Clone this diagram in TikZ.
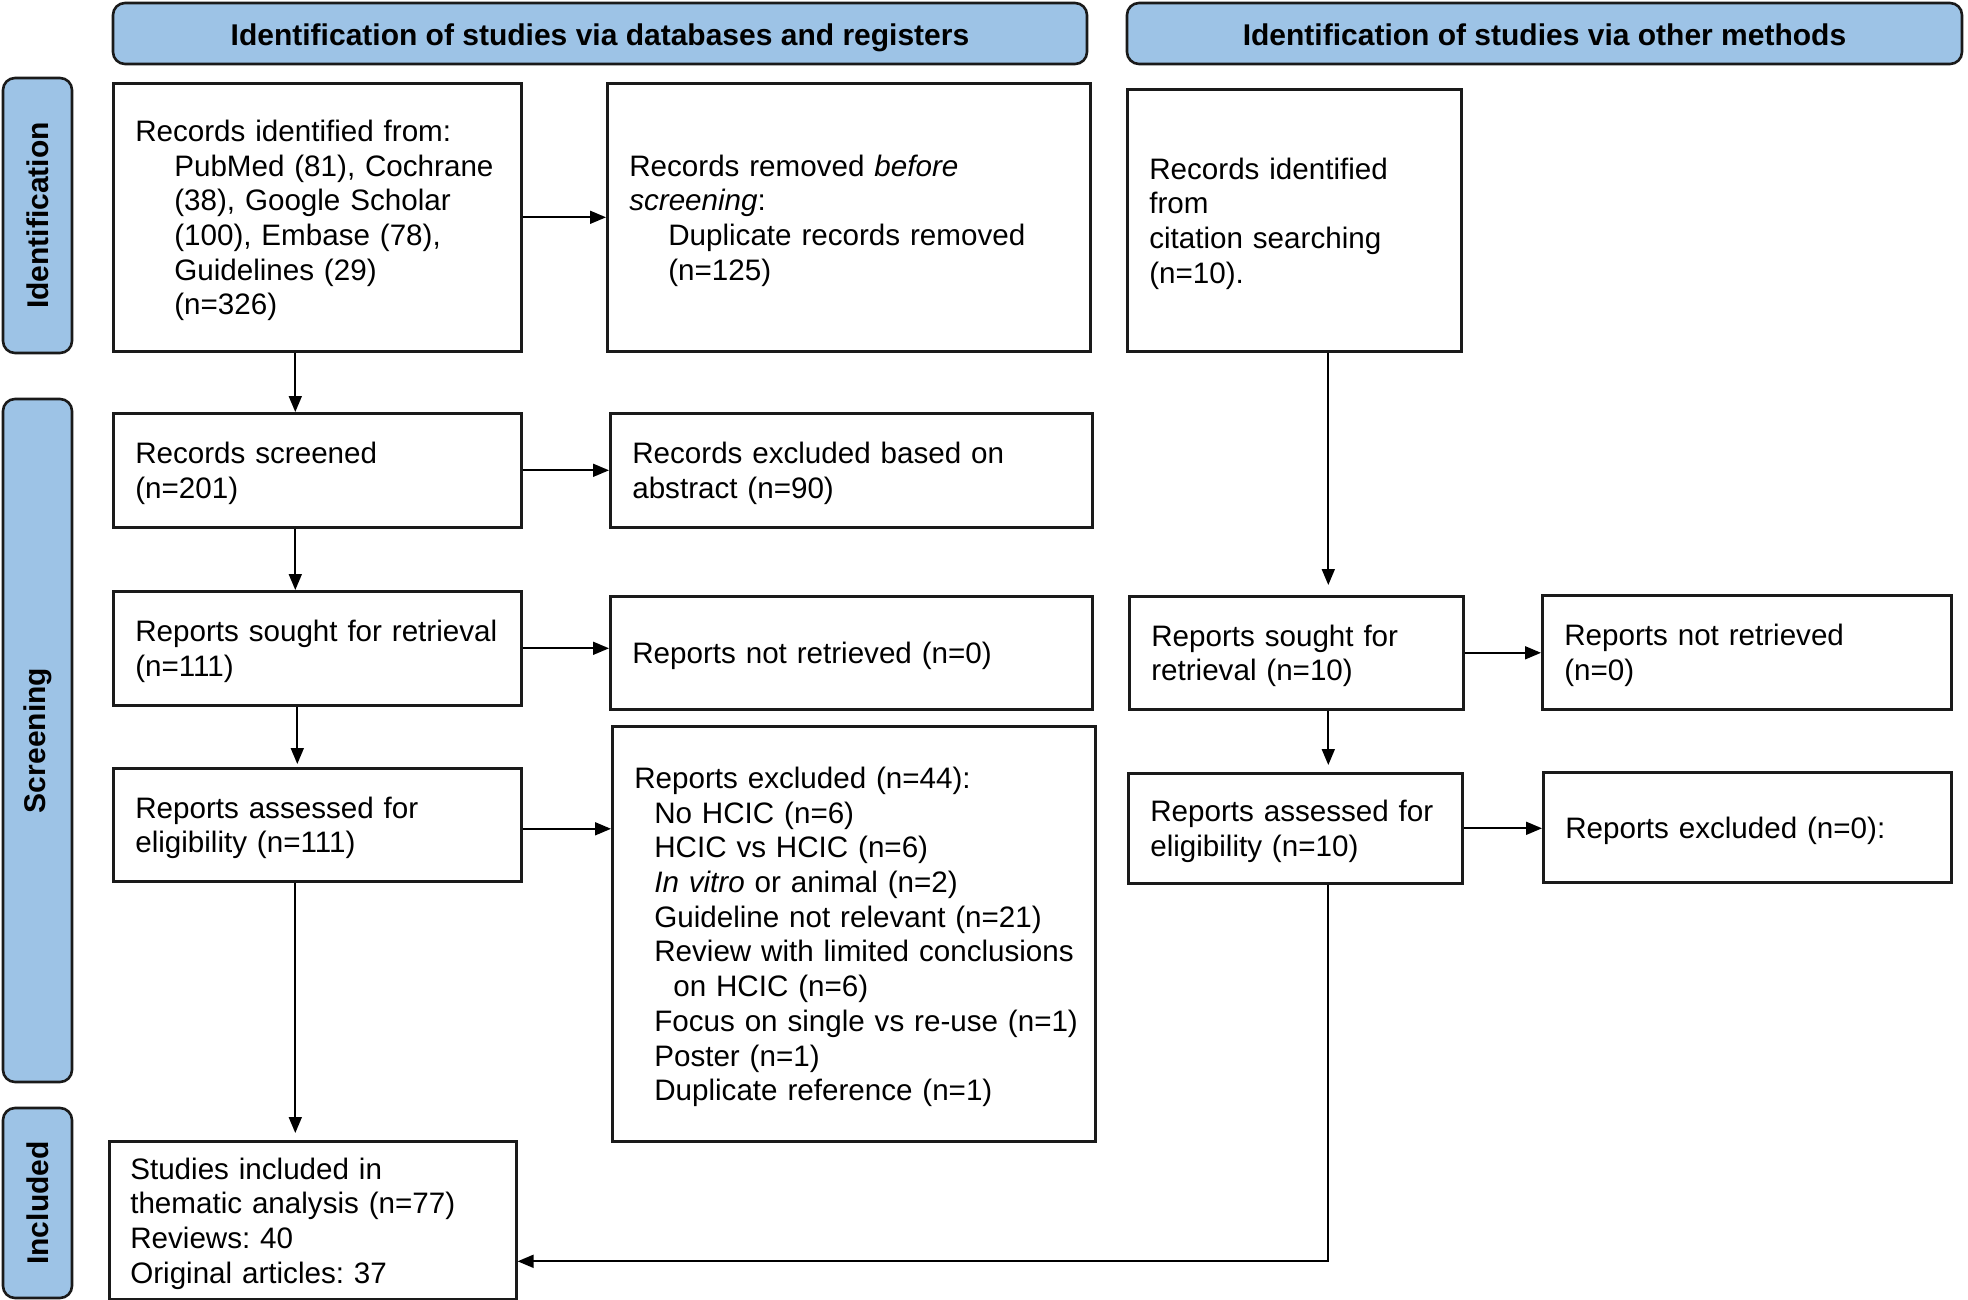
\documentclass[tikz,border=0pt]{standalone}
\usepackage{fontspec}
\setmainfont{Liberation Sans}
\usetikzlibrary{arrows.meta}
\definecolor{hdrblue}{HTML}{9DC3E6}
\definecolor{edgecol}{HTML}{1A1A1A}
\newcommand{\tbl}[1]{\begin{tabular}{@{}l@{}}\rule{0pt}{32pt}#1\end{tabular}}
\frenchspacing
\begin{document}
\begin{tikzpicture}[x=1pt,y=-1pt,
  txt/.style={font=\fontsize{29.6}{34.7}\selectfont\frenchspacing},
  bx/.style={draw=edgecol, line width=2.6pt, rectangle, anchor=north west, inner xsep=22pt, inner ysep=0pt, align=left, txt},
  hdr/.style={draw=edgecol, line width=2.6pt, fill=hdrblue, rounded corners=12pt, font=\fontsize{30}{34.7}\selectfont\bfseries, inner sep=0pt},
  side/.style={hdr, rotate=90},
  arr/.style={draw=black, line width=1.8pt, -{Triangle[length=16pt,width=13pt]}}
]
\useasboundingbox (0,0) rectangle (1968,1300);

% headers
\node[hdr, minimum width=974pt, minimum height=61pt, text height=23.6pt, text depth=0pt] (h1) at (600,33.5) {Identification of studies via databases and registers};
\node[hdr, minimum width=835pt, minimum height=61pt, text height=23.6pt, text depth=0pt] (h2) at (1544.5,33.5) {Identification of studies via other methods};

% side labels
\node[side, minimum width=275pt, minimum height=69pt] (s1) at (37.5,215.5) {Identification};
\node[side, minimum width=683pt, minimum height=69pt] (s2) at (37.5,740.5) {Screening};
\node[side, minimum width=190pt, minimum height=69pt] (s3) at (37.5,1203) {Included};

% boxes
\node[bx, minimum width=408pt, minimum height=268pt, text width=364pt] (A) at (112,82)
  {\tbl{Records identified from:\\
   \hspace*{39pt}PubMed (81), Cochrane\\
   \hspace*{39pt}(38), Google Scholar\\
   \hspace*{39pt}(100), Embase (78),\\
   \hspace*{39pt}Guidelines (29)\\
   \hspace*{39pt}(n=326)}};
\node[bx, minimum width=483pt, minimum height=268pt, text width=439pt] (B) at (606,82)
  {\tbl{Records removed \textit{before}\\
   \textit{screening}:\\
   \hspace*{39pt}Duplicate records removed\\
   \hspace*{39pt}(n=125)}};
\node[bx, minimum width=334pt, minimum height=262pt, text width=290pt] (C) at (1126,88)
  {\tbl{Records identified\\from\\citation searching\\(n=10).}};
\node[bx, minimum width=408pt, minimum height=114pt, text width=364pt] (D) at (112,412)
  {\tbl{Records screened\\(n=201)}};
\node[bx, minimum width=482pt, minimum height=114pt, text width=438pt] (E) at (609,412)
  {\tbl{Records excluded based on\\abstract (n=90)}};
\node[bx, minimum width=408pt, minimum height=114pt, text width=364pt] (F) at (112,590)
  {\tbl{Reports sought for retrieval\\(n=111)}};
\node[bx, minimum width=482pt, minimum height=113pt, text width=438pt] (G) at (609,595)
  {\tbl{Reports not retrieved (n=0)}};
\node[bx, minimum width=334pt, minimum height=113pt, text width=290pt] (H) at (1128,595)
  {\tbl{Reports sought for\\retrieval (n=10)}};
\node[bx, minimum width=409pt, minimum height=114pt, text width=365pt] (I) at (1541,594)
  {\tbl{Reports not retrieved\\(n=0)}};
\node[bx, minimum width=408pt, minimum height=113pt, text width=364pt] (J) at (112,767)
  {\tbl{Reports assessed for\\eligibility (n=111)}};
\node[bx, minimum width=483pt, minimum height=415pt, text width=439pt] (K) at (611,725)
  {\tbl{Reports excluded (n=44):\\
   \hspace*{20pt}No HCIC (n=6)\\
   \hspace*{20pt}HCIC vs HCIC (n=6)\\
   \hspace*{20pt}\textit{In vitro} or animal (n=2)\\
   \hspace*{20pt}Guideline not relevant (n=21)\\
   \hspace*{20pt}Review with limited conclusions\\
   \hspace*{39pt}on HCIC (n=6)\\
   \hspace*{20pt}Focus on single vs re-use (n=1)\\
   \hspace*{20pt}Poster (n=1)\\
   \hspace*{20pt}Duplicate reference (n=1)}};
\node[bx, minimum width=334pt, minimum height=110pt, text width=290pt] (L) at (1127,772)
  {\tbl{Reports assessed for\\eligibility (n=10)}};
\node[bx, minimum width=408pt, minimum height=110pt, text width=364pt] (M) at (1542,771)
  {\tbl{Reports excluded (n=0):}};
\node[bx, minimum width=407pt, minimum height=158pt, text width=365pt, inner xsep=21pt] (N) at (108,1140)
  {\tbl{Studies included in\\thematic analysis (n=77)\\Reviews: 40\\Original articles: 37}};

% arrows
\draw[arr] (A.east) -- (A.east -| B.west);
\draw[arr] (D.east) -- (D.east -| E.west);
\draw[arr] (F.east) -- (F.east -| G.west);
\draw[arr] ([yshift=-4pt]J.east) -- ([yshift=-4pt]J.east -| K.west);
\draw[arr] (H.east) -- (H.east -| I.west);
\draw[arr] (L.east) -- (L.east -| M.west);

\draw[arr] ([xshift=-22pt]A.south) -- ([xshift=-22pt]A.south |- D.north);
\draw[arr] ([xshift=-22pt]D.south) -- ([xshift=-22pt]D.south |- F.north);
\draw[arr, shorten >=3pt] ([xshift=-20pt]F.south) -- ([xshift=-20pt]F.south |- J.north);
\draw[arr, shorten >=7pt] ([xshift=-22pt]J.south) -- ([xshift=-22pt]J.south |- N.north);

\draw[arr, shorten >=10pt] ([xshift=34pt]C.south) -- ([xshift=34pt]C.south |- H.north);
\draw[arr, shorten >=7pt] ([xshift=32pt]H.south) -- ([xshift=32pt]H.south |- L.north);
\draw[arr] ([xshift=33pt]L.south) |- ([yshift=-41pt]N.east);
\end{tikzpicture}
\end{document}
